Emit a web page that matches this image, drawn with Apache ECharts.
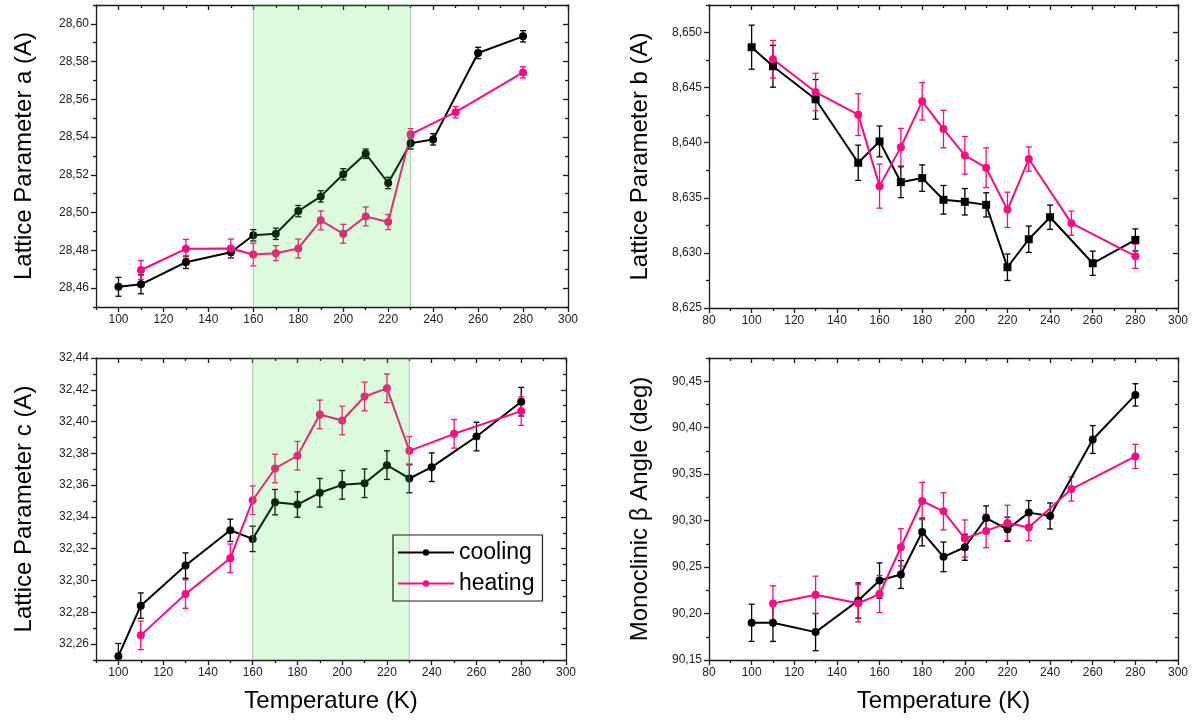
<!DOCTYPE html>
<html><head><meta charset="utf-8">
<script src="https://cdn.jsdelivr.net/npm/echarts@6/dist/echarts.min.js"></script>
<style>html,body{margin:0;padding:0;background:#fff}#c{width:1198px;height:722px}</style>
</head><body><div id="c"></div><script>
// ---------------- DATA ----------------
const tempCool = [100,110,130,150,160,170,180,190,200,210,220,230,240,260,280];
const tempHeat = [110,130,150,160,170,180,190,200,210,220,230,250,280];

const aCool    = [28.4607,28.4620,28.4737,28.4790,28.4880,28.4888,28.5008,28.5086,28.5203,28.5312,28.5157,28.5367,28.5388,28.5846,28.5934];
const aCoolErr = [0.005,0.005,0.0033,0.003,0.003,0.003,0.003,0.003,0.003,0.0025,0.003,0.003,0.003,0.003,0.003];
const aHeat    = [28.4696,28.4808,28.4810,28.4778,28.4785,28.4810,28.4959,28.4888,28.4980,28.4950,28.5415,28.5532,28.5743];
const aHeatErr = [0.005,0.005,0.005,0.006,0.004,0.005,0.005,0.005,0.005,0.004,0.003,0.003,0.003];

const bCool    = [8.64867,8.64694,8.64394,8.63818,8.64012,8.63642,8.63679,8.63482,8.63464,8.63436,8.62870,8.63124,8.63324,8.62906,8.63118];
const bCoolErr = [0.002,0.0019,0.0018,0.0016,0.0014,0.0014,0.0012,0.0013,0.0012,0.0011,0.0012,0.0012,0.0011,0.0011,0.0010];
const bHeat    = [8.64758,8.64460,8.64255,8.63606,8.63960,8.64376,8.64124,8.63885,8.63773,8.63391,8.63852,8.63270,8.62970];
const bHeatErr = [0.0017,0.0017,0.0019,0.002,0.0017,0.0017,0.0017,0.0017,0.0018,0.0016,0.0011,0.0011,0.0011];

const cCool    = [32.2524,32.2842,32.3094,32.3316,32.3262,32.3493,32.3478,32.3552,32.3602,32.3612,32.3726,32.3642,32.3713,32.3906,32.4125];
const cCoolErr = [0.008,0.008,0.008,0.007,0.008,0.008,0.008,0.009,0.009,0.009,0.009,0.009,0.009,0.009,0.009];
const cHeat    = [32.2655,32.2915,32.3140,32.3505,32.3705,32.3785,32.4045,32.4007,32.4158,32.4209,32.3816,32.3923,32.4066];
const cHeatErr = [0.009,0.009,0.009,0.009,0.009,0.009,0.009,0.009,0.009,0.009,0.009,0.009,0.009];

const betaCool    = [90.190,90.190,90.180,90.214,90.2355,90.242,90.2878,90.261,90.2713,90.3028,90.2907,90.3086,90.305,90.3873,90.4353];
const betaCoolErr = [0.02,0.02,0.02,0.019,0.019,0.015,0.015,0.016,0.014,0.013,0.013,0.013,0.014,0.015,0.012];
const betaHeat    = [90.2109,90.2202,90.211,90.221,90.2713,90.3211,90.31,90.2807,90.2889,90.2975,90.2925,90.334,90.3691];
const betaHeatErr = [0.019,0.02,0.02,0.02,0.02,0.02,0.02,0.02,0.018,0.019,0.014,0.013,0.013];

const bandRange = [160, 230];

// tick labels
const xTicksLeft  = [100,120,140,160,180,200,220,240,260,280,300];
const xMinorLeft  = [90,110,130,150,170,190,210,230,250,270,290];
const xTicksRight = [80,100,120,140,160,180,200,220,240,260,280,300];
const xMinorRight = [90,110,130,150,170,190,210,230,250,270,290];
const yTicksA = [28.46,28.48,28.50,28.52,28.54,28.56,28.58,28.60];
const yMinorA = [28.45,28.47,28.49,28.51,28.53,28.55,28.57,28.59,28.61];
const yTicksB = [8.625,8.630,8.635,8.640,8.645,8.650];
const yMinorB = [8.6275,8.6325,8.6375,8.6425,8.6475,8.6525];
const yTicksC = [32.26,32.28,32.30,32.32,32.34,32.36,32.38,32.40,32.42,32.44];
const yMinorC = [32.25,32.27,32.29,32.31,32.33,32.35,32.37,32.39,32.41,32.43];
const yTicksBeta = [90.15,90.20,90.25,90.30,90.35,90.40,90.45];
const yMinorBeta = [90.175,90.225,90.275,90.325,90.375,90.425,90.475];

const titles = ['Lattice Parameter a (A)','Lattice Parameter b (A)','Lattice Parameter c (A)','Monoclinic \u03b2 Angle (deg)'];
const xTitle = 'Temperature (K)';
const legendNames = ['cooling','heating'];

// ---------------- STYLE / LAYOUT ----------------
const BLACK = '#000000', PINK = '#ff0a84', AX = '#1a1a1a', LBL = '#20202a';
const FONT = '"Liberation Sans", Arial, sans-serif';

const panels = [
  {rect:{left:96, top:5, width:472, height:302}, xMin:90, xMax:300, xT:xTicksLeft, xM:xMinorLeft,
   yMin:28.45, yMax:28.61, yT:yTicksA, yM:yMinorA, dec:2, title:titles[0], nameGap:60, xName:'',
   cool:aCool, coolErr:aCoolErr, heat:aHeat, heatErr:aHeatErr, coolSym:'circle', band:true},
  {rect:{left:709, top:5, width:469, height:303}, xMin:80, xMax:300, xT:xTicksRight, xM:xMinorRight,
   yMin:8.625, yMax:8.6525, yT:yTicksB, yM:yMinorB, dec:3, title:titles[1], nameGap:57, xName:'',
   cool:bCool, coolErr:bCoolErr, heat:bHeat, heatErr:bHeatErr, coolSym:'rect', band:false},
  {rect:{left:96, top:358, width:470, height:302}, xMin:90, xMax:300, xT:xTicksLeft, xM:xMinorLeft,
   yMin:32.25, yMax:32.44, yT:yTicksC, yM:yMinorC, dec:2, title:titles[2], nameGap:60, xName:xTitle,
   cool:cCool, coolErr:cCoolErr, heat:cHeat, heatErr:cHeatErr, coolSym:'circle', band:true},
  {rect:{left:709, top:358, width:469, height:302}, xMin:80, xMax:300, xT:xTicksRight, xM:xMinorRight,
   yMin:90.15, yMax:90.475, yT:yTicksBeta, yM:yMinorBeta, dec:2, title:titles[3], nameGap:57, xName:xTitle,
   cool:betaCool, coolErr:betaCoolErr, heat:betaHeat, heatErr:betaHeatErr, coolSym:'circle', band:false}
];

const grid = [], xAxis = [], yAxis = [], series = [];
const axLine = {color: AX, width: 1.3};

function pushAxes(arr, gi, min, max, majors, minors, posMain, posMirror, isY, p) {
  const mainIdx = arr.length;
  const common = {gridIndex: gi, type: 'value', min: min, max: max, splitLine: {show: false}, scale: true};
  arr.push(Object.assign({}, common, {
    position: posMain,
    axisLine: {show: true, onZero: false, lineStyle: axLine},
    axisTick: {show: true, customValues: majors, length: 5, lineStyle: axLine},
    axisLabel: {show: true, customValues: majors, fontSize: 12, color: LBL, fontFamily: FONT, margin: 7,
      formatter: v => isY ? v.toFixed(p.dec).replace('.', ',') : String(v)},
    name: isY ? p.title : p.xName, nameLocation: 'middle', nameGap: isY ? p.nameGap : 29,
    nameTextStyle: {fontSize: 24, color: '#000', fontFamily: FONT}
  }));
  arr.push(Object.assign({}, common, {
    position: posMain,
    axisLine: {show: false, onZero: false},
    axisTick: {show: true, customValues: minors, length: 3, lineStyle: axLine},
    axisLabel: {show: false}
  }));
  arr.push(Object.assign({}, common, {
    position: posMirror,
    axisLine: {show: true, onZero: false, lineStyle: axLine},
    axisTick: {show: true, inside: true, customValues: majors, length: 5, lineStyle: axLine},
    axisLabel: {show: false}
  }));
  arr.push(Object.assign({}, common, {
    position: posMirror,
    axisLine: {show: false, onZero: false},
    axisTick: {show: true, inside: true, customValues: minors, length: 3, lineStyle: axLine},
    axisLabel: {show: false}
  }));
  return mainIdx;
}

function errSeries(xi, yi, temps, vals, errs, color) {
  return {
    type: 'custom', xAxisIndex: xi, yAxisIndex: yi, z: 3, silent: true,
    data: temps.map((t, i) => [t, vals[i] - errs[i], vals[i] + errs[i]]),
    encode: {x: 0, y: [1, 2]},
    renderItem: function (params, api) {
      const cs = params.coordSys;
      const lo = api.coord([api.value(0), api.value(1)]);
      const hi = api.coord([api.value(0), api.value(2)]);
      const yb = Math.min(lo[1], cs.y + cs.height), yt = Math.max(hi[1], cs.y);
      const w = 3, st = {stroke: color, lineWidth: 1.3};
      const ch = [{type: 'line', shape: {x1: lo[0], y1: yb, x2: hi[0], y2: yt}, style: st}];
      if (lo[1] <= cs.y + cs.height) ch.push({type: 'line', shape: {x1: lo[0] - w, y1: lo[1], x2: lo[0] + w, y2: lo[1]}, style: st});
      if (hi[1] >= cs.y) ch.push({type: 'line', shape: {x1: hi[0] - w, y1: hi[1], x2: hi[0] + w, y2: hi[1]}, style: st});
      return {type: 'group', children: ch};
    }
  };
}

panels.forEach((p, gi) => {
  grid.push(Object.assign({containLabel: false}, p.rect));
  const xi = pushAxes(xAxis, gi, p.xMin, p.xMax, p.xT, p.xM, 'bottom', 'top', false, p);
  const yi = pushAxes(yAxis, gi, p.yMin, p.yMax, p.yT, p.yM, 'left', 'right', true, p);
  series.push(errSeries(xi, yi, tempCool, p.cool, p.coolErr, BLACK));
  series.push(errSeries(xi, yi, tempHeat, p.heat, p.heatErr, PINK));
  series.push({type: 'line', name: legendNames[0], xAxisIndex: xi, yAxisIndex: yi, z: 4,
    data: tempCool.map((t, i) => [t, p.cool[i]]), symbol: p.coolSym, symbolSize: 8, showSymbol: true,
    itemStyle: {color: BLACK}, lineStyle: {color: BLACK, width: 2}});
  series.push({type: 'line', name: legendNames[1], xAxisIndex: xi, yAxisIndex: yi, z: 4,
    data: tempHeat.map((t, i) => [t, p.heat[i]]), symbol: 'circle', symbolSize: 8, showSymbol: true,
    itemStyle: {color: PINK}, lineStyle: {color: PINK, width: 2}});
  if (p.band) {
    series.push({type: 'custom', xAxisIndex: xi, yAxisIndex: yi, z: 10, silent: true,
      data: [[bandRange[0], bandRange[1]]],
      renderItem: function (params, api) {
        const cs = params.coordSys;
        const a = api.coord([api.value(0), p.yMin]);
        const b = api.coord([api.value(1), p.yMin]);
        const ls = {stroke: 'rgba(140,150,140,0.45)', lineWidth: 1.2};
        return {type: 'group', children: [
          {type: 'rect', shape: {x: a[0], y: cs.y, width: b[0] - a[0], height: cs.height},
           style: {fill: 'rgba(57,227,57,0.176)'}},
          {type: 'line', shape: {x1: a[0], y1: cs.y, x2: a[0], y2: cs.y + cs.height}, style: ls},
          {type: 'line', shape: {x1: b[0], y1: cs.y, x2: b[0], y2: cs.y + cs.height}, style: ls}
        ]};
      }});
  }
});

const option = {
  animation: false,
  backgroundColor: '#ffffff',
  grid: grid, xAxis: xAxis, yAxis: yAxis, series: series,
  legend: {
    data: legendNames, orient: 'vertical', left: 393, top: 535,
    itemWidth: 56, itemHeight: 8, itemGap: 8, selectedMode: false,
    textStyle: {fontSize: 23, color: '#000', fontFamily: FONT},
    borderColor: '#222', borderWidth: 1.2, borderRadius: 0, padding: [6, 8, 6, 4],
    backgroundColor: 'rgba(255,255,255,0)', z: 20
  }
};
const chart = echarts.init(document.getElementById('c'), null, {renderer: 'canvas'});
chart.setOption(option);
</script></body></html>
